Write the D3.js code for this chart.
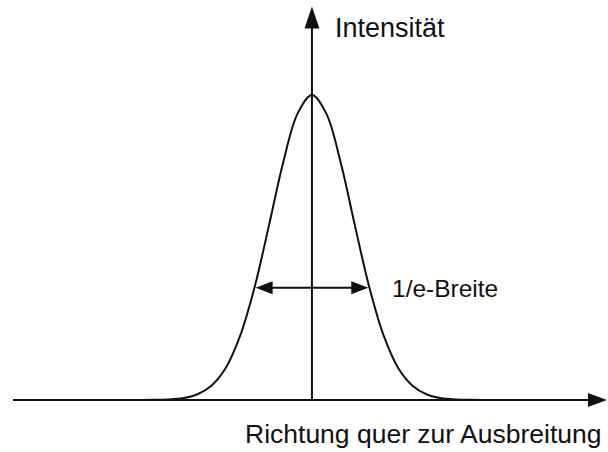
<!DOCTYPE html>
<html>
<head>
<meta charset="utf-8">
<script src="https://cdn.jsdelivr.net/npm/d3@7"></script>
<style>
  html, body { margin: 0; padding: 0; background: #fff; }
  svg { display: block; }
  text { font-family: "Liberation Sans", Arial, Helvetica, sans-serif; fill: #111; }
</style>
</head>
<body>
<svg id="chart" width="608" height="452"></svg>
<script>
// Transverse position, in units of the 1/e half-width
const positions = [-3, -2.75, -2.5, -2.25, -2, -1.75, -1.5, -1.25, -1, -0.75, -0.5, -0.25, 0,
                   0.25, 0.5, 0.75, 1, 1.25, 1.5, 1.75, 2, 2.25, 2.5, 2.75, 3];
// Relative intensity at each position
const intensity = [0, 0.0005, 0.002, 0.006, 0.018, 0.047, 0.105, 0.21, 0.368, 0.57, 0.779, 0.939, 1,
                   0.939, 0.779, 0.57, 0.368, 0.21, 0.105, 0.047, 0.018, 0.006, 0.002, 0.0005, 0];
// Width marker: drawn between ±1 at the 1/e level
const widthEnds = [-0.98, 0.98];
const widthLevel = 0.368;
// Axis extents
const xAxisDomain = [-5.2, 5.15];
const yAxisTop = 1.29;
// Labels
const yLabel = "Intensität";
const xLabel = "Richtung quer zur Ausbreitung";
const widthLabel = "1/e-Breite";

const svg = d3.select("#chart");
const x = d3.scaleLinear().domain(xAxisDomain).range([13, 608]);
const y = d3.scaleLinear().domain([0, 1]).range([400, 95]);

const ink = "#111";

function arrowHead(tipX, tipY, dir, len, half) {
  // dir: unit vector along the arrow
  const [dx, dy] = dir;
  const bx = tipX - dx * len, by = tipY - dy * len;
  const px = -dy * half, py = dx * half;
  return `M${tipX},${tipY}L${bx + px},${by + py}L${bx - px},${by - py}Z`;
}

// Horizontal axis
const xTip = x(xAxisDomain[1]) - 1;
svg.append("line")
  .attr("x1", x(xAxisDomain[0])).attr("x2", xTip - 12)
  .attr("y1", y(0)).attr("y2", y(0))
  .attr("stroke", ink).attr("stroke-width", 2);
svg.append("path")
  .attr("d", arrowHead(xTip, y(0), [1, 0], 19, 7))
  .attr("fill", ink);

// Vertical axis
const yTip = y(yAxisTop);
svg.append("line")
  .attr("x1", x(0)).attr("x2", x(0))
  .attr("y1", y(0)).attr("y2", yTip + 12)
  .attr("stroke", ink).attr("stroke-width", 2);
svg.append("path")
  .attr("d", arrowHead(x(0), yTip, [0, -1], 22, 7.5))
  .attr("fill", ink);

// Intensity profile
const line = d3.line()
  .x((d, i) => x(positions[i]))
  .y(d => y(d))
  .curve(d3.curveCatmullRom.alpha(0.5));
svg.append("path")
  .datum(intensity)
  .attr("d", line)
  .attr("fill", "none")
  .attr("stroke", ink)
  .attr("stroke-width", 2);

// 1/e width marker
const wy = y(widthLevel);
const wl = x(widthEnds[0]), wr = x(widthEnds[1]);
svg.append("line")
  .attr("x1", wl + 10).attr("x2", wr - 10)
  .attr("y1", wy).attr("y2", wy)
  .attr("stroke", ink).attr("stroke-width", 2);
svg.append("path").attr("d", arrowHead(wl, wy, [-1, 0], 17, 6.5)).attr("fill", ink);
svg.append("path").attr("d", arrowHead(wr, wy, [1, 0], 17, 6.5)).attr("fill", ink);

// Labels
svg.append("text").attr("x", 335).attr("y", 37)
  .attr("font-size", 27).text(yLabel);
svg.append("text").attr("x", 392).attr("y", 297)
  .attr("font-size", 24.5).text(widthLabel);
svg.append("text").attr("x", 245).attr("y", 443)
  .attr("font-size", 26.5).text(xLabel);
</script>
</body>
</html>
